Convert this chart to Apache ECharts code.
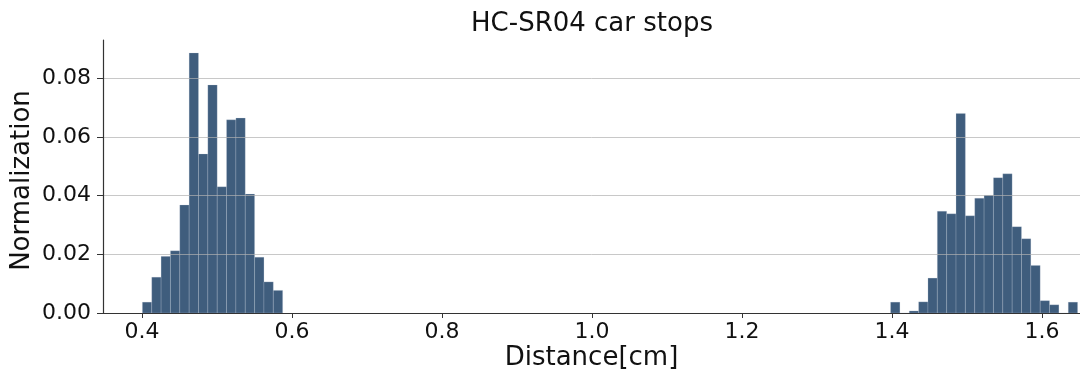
<!DOCTYPE html>
<html>
<head>
<meta charset="utf-8">
<script src="https://cdn.jsdelivr.net/npm/echarts@6/dist/echarts.min.js"></script>
<style>
    html, body { margin: 0; padding: 0; background: #fff; }
    #hist { width: 1080px; height: 376px; }
</style>
</head>
<body>
<div id="hist"></div>
<script>
// histogram bins (100 bins between min and max distance)
const binStart = 0.4005;
const binWidth = 0.01247;

// first group: bins 0..14
const nearBinOffset = 0;
const nearHeights = [0.0037, 0.0122, 0.0193, 0.0212, 0.0368, 0.0886, 0.0542, 0.0777,
    0.0430, 0.0658, 0.0664, 0.0405, 0.0190, 0.0106, 0.0077];

// second group: bins 80..99
const farBinOffset = 80;
const farHeights = [0.0037, 0, 0.0007, 0.0038, 0.0119, 0.0347, 0.0338, 0.0680, 0.0331,
    0.0391, 0.0401, 0.0461, 0.0474, 0.0294, 0.0253, 0.0162, 0.0042, 0.0028, 0, 0.0037];

const xTicks = [0.4, 0.6, 0.8, 1.0, 1.2, 1.4, 1.6];
const yTicks = [0, 0.02, 0.04, 0.06, 0.08];

function loadHistogram() {
    const chart = echarts.init(document.getElementById('hist'));

    const bins = [];
    const addGroup = (offset, heights) => {
        heights.forEach((h, i) => {
            const left = binStart + (offset + i) * binWidth;
            bins.push([left, left + binWidth, h]);
        });
    };
    addGroup(nearBinOffset, nearHeights);
    addGroup(farBinOffset, farHeights);

    const font = 'DejaVu Sans';

    chart.setOption({
        animation: false,
        title: {
            text: 'HC-SR04 car stops',
            left: 587,
            textAlign: 'center',
            top: 6,
            textStyle: { fontFamily: font, fontSize: 26, fontWeight: 'normal', color: '#111' }
        },
        grid: { left: 103, right: 0, top: 40, bottom: 63, outerBoundsMode: 'none' },
        xAxis: {
            type: 'value',
            min: 0.348,
            max: 1.6507,
            name: 'Distance[cm]',
            nameLocation: 'middle',
            nameGap: 32,
            nameMoveOverlap: false,
            nameTextStyle: { fontFamily: font, fontSize: 26, color: '#111' },
            z: 10,
            axisLine: { lineStyle: { color: '#333', width: 1.2 } },
            axisTick: { length: 5, lineStyle: { color: '#333' }, customValues: xTicks },
            axisLabel: {
                customValues: xTicks,
                margin: 8,
                fontFamily: font, fontSize: 22, color: '#111',
                formatter: v => v.toFixed(1)
            },
            splitLine: { show: false }
        },
        yAxis: {
            type: 'value',
            min: 0,
            max: 0.093,
            name: 'Normalization',
            nameLocation: 'middle',
            nameGap: 68,
            nameMoveOverlap: false,
            nameTextStyle: { fontFamily: font, fontSize: 26, color: '#111', padding: [0, 8, 0, 0] },
            z: 10,
            axisLine: { show: true, lineStyle: { color: '#333', width: 1.2 } },
            axisTick: { show: true, length: 6, lineStyle: { color: '#333' }, customValues: yTicks },
            axisLabel: {
                customValues: yTicks,
                margin: 12,
                fontFamily: font, fontSize: 22, color: '#111',
                formatter: v => v.toFixed(2)
            },
            splitLine: { show: true, lineStyle: { color: 'rgba(176,176,176,0.7)', width: 1 } }
        },
        series: [{
            type: 'custom',
            data: bins,
            z: 2,
            renderItem: (params, api) => {
                const p0 = api.coord([api.value(0), api.value(2)]);
                const p1 = api.coord([api.value(1), 0]);
                return {
                    type: 'rect',
                    shape: { x: p0[0], y: p0[1], width: p1[0] - p0[0], height: p1[1] - p0[1] },
                    style: { fill: '#3f5d7d', stroke: 'rgba(200,210,222,0.45)', lineWidth: 0.5 }
                };
            }
        }]
    });

    window.addEventListener('resize', () => chart.resize());
}

document.addEventListener('DOMContentLoaded', loadHistogram);
</script>
</body>
</html>
